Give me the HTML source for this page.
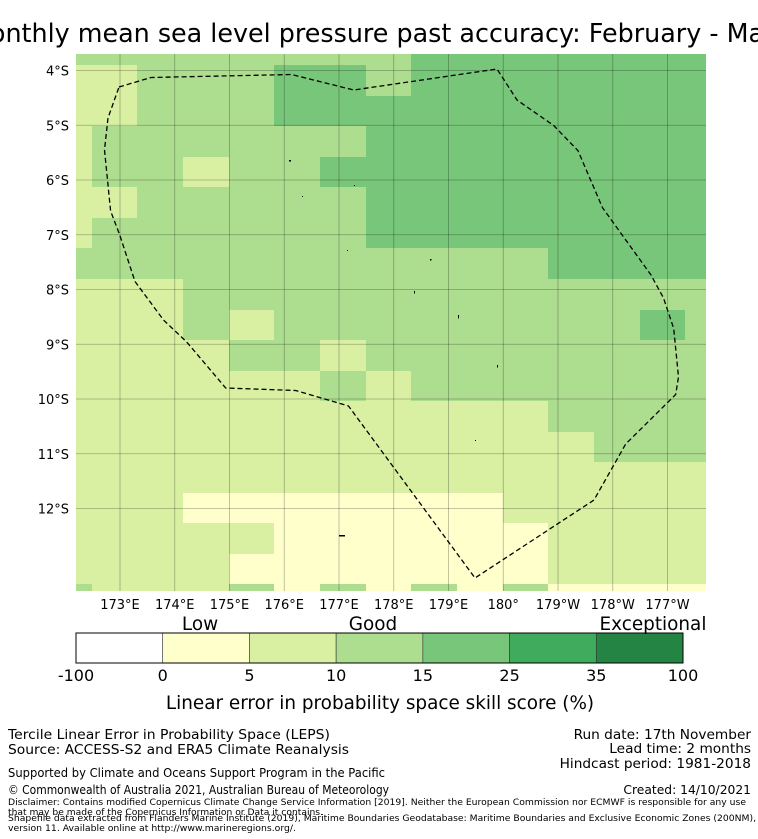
<!DOCTYPE html>
<html><head><meta charset="utf-8"><style>
html,body{margin:0;padding:0;background:#fff;width:758px;height:839px;overflow:hidden}
svg{display:block;font-family:"DejaVu Sans","Liberation Sans",sans-serif}
</style></head><body>
<svg id="chart" width="758" height="839" viewBox="0 0 758 839" xmlns="http://www.w3.org/2000/svg">
<text x="386" y="42" font-size="25.4" text-anchor="middle" fill="#000">Monthly mean sea level pressure past accuracy: February - March</text>
<g id="cells"></g>
<g id="grid"></g>
<polyline id="eez" fill="none" stroke="#000" stroke-width="1.3" stroke-dasharray="5,3"
points="119,87 151,77.5 291.5,74.5 353.7,90 497,69 517,100 553.7,125.5 578,150.7 602.5,207.7 651,275 663.5,298 673.7,328.5 678.5,377 675.7,394.5 625.7,444 594,500 475,578 348.5,406 295.6,390.5 225.7,388 186.7,342 163.5,320 135,281.5 119.6,234.6 110.6,211 104.5,150 108,118 119,87"/>
<g fill="#000">
<rect x="289" y="160" width="2" height="1.5"/><rect x="302" y="196" width="1" height="1"/><rect x="354" y="185" width="1" height="1"/><rect x="347" y="250" width="1" height="1"/><rect x="430" y="259" width="1.5" height="1.5"/><rect x="414" y="291" width="1" height="2.5"/><rect x="458" y="315" width="1" height="3.5"/><rect x="497" y="365" width="1" height="2.5"/><rect x="475" y="440" width="1" height="1"/><rect x="339" y="535" width="6" height="1.5"/>
</g>
<g id="xt" font-size="13" text-anchor="middle"></g>
<g id="yt" font-size="13" text-anchor="end"></g>
<g id="cbar"></g>
<g font-size="18.4" text-anchor="middle">
<text x="200" y="630">Low</text>
<text x="373" y="630">Good</text>
<text x="653" y="630">Exceptional</text>
</g>
<text x="380" y="709" font-size="18.4" text-anchor="middle">Linear error in probability space skill score (%)</text>
<g font-size="13.5">
<text x="8" y="739" textLength="322" lengthAdjust="spacingAndGlyphs">Tercile Linear Error in Probability Space (LEPS)</text>
<text x="8" y="754" textLength="341" lengthAdjust="spacingAndGlyphs">Source: ACCESS-S2 and ERA5 Climate Reanalysis</text>
<text x="8" y="777" font-size="12" textLength="377" lengthAdjust="spacingAndGlyphs">Supported by Climate and Oceans Support Program in the Pacific</text>
<text x="8" y="794" font-size="12" textLength="381" lengthAdjust="spacingAndGlyphs">© Commonwealth of Australia 2021, Australian Bureau of Meteorology</text>
<text x="8" y="805" font-size="9" textLength="738" lengthAdjust="spacingAndGlyphs">Disclaimer: Contains modified Copernicus Climate Change Service Information [2019]. Neither the European Commission nor ECMWF is responsible for any use</text>
<text x="8" y="815" font-size="9" textLength="315" lengthAdjust="spacingAndGlyphs">that may be made of the Copernicus Information or Data it contains.</text>
<text x="8" y="821" font-size="9" textLength="748" lengthAdjust="spacingAndGlyphs">Shapefile data extracted from Flanders Marine Institute (2019), Maritime Boundaries Geodatabase: Maritime Boundaries and Exclusive Economic Zones (200NM),</text>
<text x="8" y="831" font-size="9" textLength="288" lengthAdjust="spacingAndGlyphs">version 11. Available online at http://www.marineregions.org/.</text>
</g>
<g font-size="13.7" text-anchor="end">
<text x="751" y="739">Run date: 17th November</text>
<text x="751" y="753">Lead time: 2 months</text>
<text x="751" y="768">Hindcast period: 1981-2018</text>
<text x="751" y="794" font-size="12.3">Created: 14/10/2021</text>
</g>
</svg>
<script>
const colEdges=[76,92,137,183,229,274,320,366,411,457,503,548,594,640,685,706];
const rowEdges=[54,65,96,126,157,187,218,248,279,310,340,371,401,432,462,493,523,554,584,591];
const skillRows=[
"333333334444444",
"223334434444444",
"223334444444444",
"233333344444444",
"233233444444444",
"223333344444444",
"233333344444444",
"333333333334444",
"222333333333333",
"222323333333343",
"222233233333333",
"222222323333333",
"222222222223333",
"222222222222333",
"222222222222222",
"222111111122222",
"222221111112222",
"222211111112222",
"322231313131111"];
const levelColors=["#ffffff","#ffffcc","#d9f0a3","#addd8e","#78c679","#41ab5d","#238443"];
const cbTicks=["-100","0","5","10","15","25","35","100"];
const lonLabels=["173°E","174°E","175°E","176°E","177°E","178°E","179°E","180°","179°W","178°W","177°W"];
const latLabels=["4°S","5°S","6°S","7°S","8°S","9°S","10°S","11°S","12°S"];
const NS="http://www.w3.org/2000/svg";
const lonX=i=>120+i*54.75;
const latY=i=>70.5+i*54.75;
const cells=document.getElementById('cells');
skillRows.forEach((row,r)=>{[...row].forEach((v,c)=>{
  const el=document.createElementNS(NS,'rect');
  el.setAttribute('x',colEdges[c]);el.setAttribute('y',rowEdges[r]);
  el.setAttribute('width',colEdges[c+1]-colEdges[c]);el.setAttribute('height',rowEdges[r+1]-rowEdges[r]);
  el.setAttribute('fill',levelColors[+v]);
  
  
  cells.appendChild(el);
});});
const grid=document.getElementById('grid');
lonLabels.forEach((t,i)=>{
  const l=document.createElementNS(NS,'line');
  l.setAttribute('x1',lonX(i));l.setAttribute('x2',lonX(i));l.setAttribute('y1',54);l.setAttribute('y2',591);
  l.setAttribute('stroke','rgba(0,0,0,0.3)');l.setAttribute('stroke-width','0.8');
  
  
  grid.appendChild(l);
  const tx=document.createElementNS(NS,'text');
  tx.setAttribute('x',lonX(i));tx.setAttribute('y',609);tx.textContent=t;
  
  
  document.getElementById('xt').appendChild(tx);
});
latLabels.forEach((t,i)=>{
  const l=document.createElementNS(NS,'line');
  l.setAttribute('y1',latY(i));l.setAttribute('y2',latY(i));l.setAttribute('x1',76);l.setAttribute('x2',706);
  l.setAttribute('stroke','rgba(0,0,0,0.3)');l.setAttribute('stroke-width','0.8');
  
  
  grid.appendChild(l);
  const tx=document.createElementNS(NS,'text');
  tx.setAttribute('x',69);tx.setAttribute('y',latY(i)+5);tx.textContent=t;
  
  
  document.getElementById('yt').appendChild(tx);
});
const cb=document.getElementById('cbar');
const cbX=i=>76+i*(607/7);
for(let i=0;i<7;i++){
  const r=document.createElementNS(NS,'rect');
  r.setAttribute('x',cbX(i));r.setAttribute('y',633);r.setAttribute('width',607/7);r.setAttribute('height',30);
  r.setAttribute('fill',levelColors[i]);r.setAttribute('stroke','#333');r.setAttribute('stroke-width','0.6');
  
  
  cb.appendChild(r);
}
cbTicks.forEach((t,i)=>{
  const tx=document.createElementNS(NS,'text');
  tx.setAttribute('x',cbX(i));tx.setAttribute('y',681);tx.setAttribute('font-size','16');tx.setAttribute('text-anchor','middle');
  tx.textContent=t;
  
  
  cb.appendChild(tx);
});
const fr=document.createElementNS(NS,'rect');
fr.setAttribute('x',76);fr.setAttribute('y',633);fr.setAttribute('width',607);fr.setAttribute('height',30);
fr.setAttribute('fill','none');fr.setAttribute('stroke','#000');fr.setAttribute('stroke-width','1');


cb.appendChild(fr);
</script>
</body></html>
